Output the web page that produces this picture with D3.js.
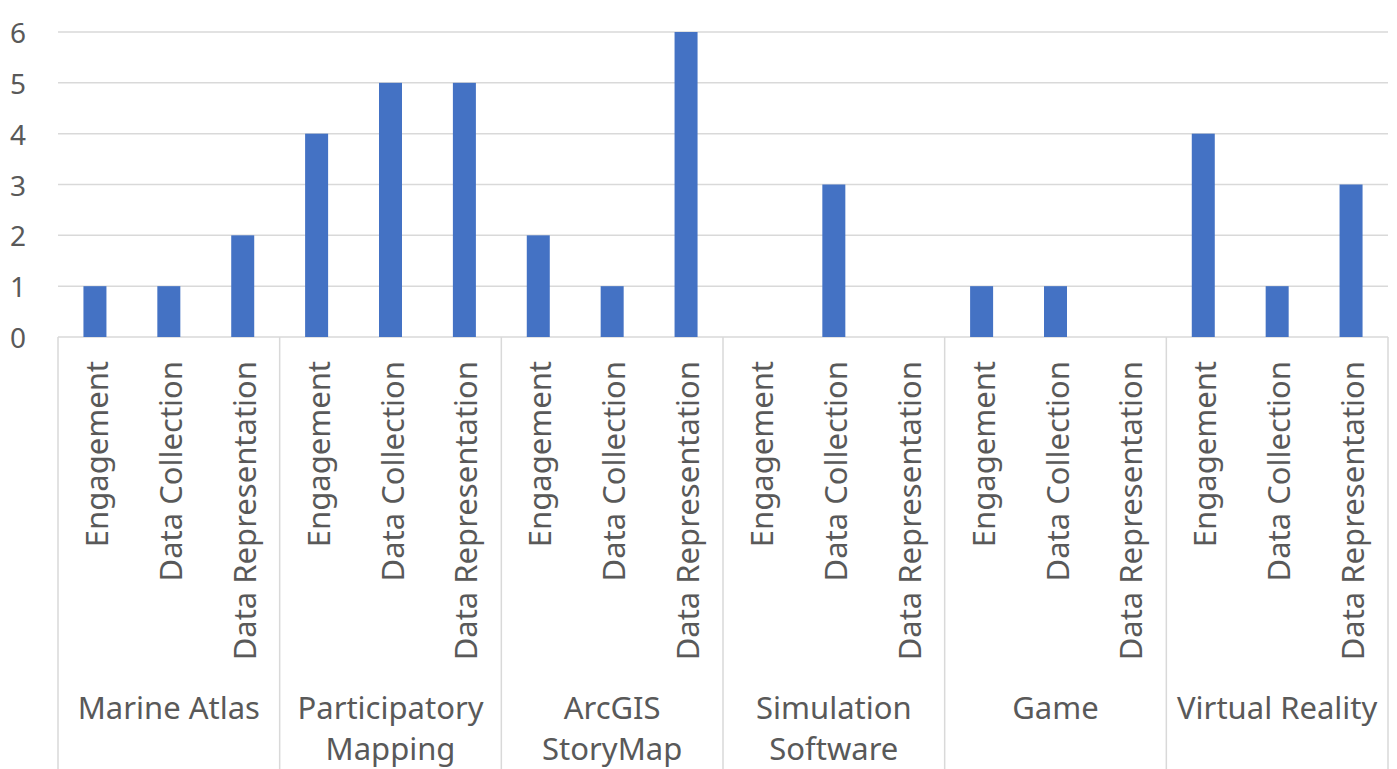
<!DOCTYPE html>
<html>
<head>
<meta charset="utf-8">
<script src="https://cdn.jsdelivr.net/npm/d3@7"></script>
<style>
  html, body { margin: 0; padding: 0; background: #fff; }
  svg { display: block; }
  text { font-family: "Noto Sans", "Open Sans", sans-serif; fill: #595959; }
</style>
</head>
<body>
<svg id="chart" width="1397" height="769"></svg>
<script>
// Tool groups (outer category) and the purpose each was used for (inner category)
const groups = ["Marine Atlas", "Participatory Mapping", "ArcGIS StoryMap", "Simulation Software", "Game", "Virtual Reality"];
const purposes = ["Engagement", "Data Collection", "Data Representation"];
// Count per group, in purpose order
const engagement         = [1, 4, 2, 0, 1, 4];
const dataCollection     = [1, 5, 1, 3, 1, 1];
const dataRepresentation = [2, 5, 6, 0, 0, 3];
const yTicks = [0, 1, 2, 3, 4, 5, 6];

const seriesByPurpose = [engagement, dataCollection, dataRepresentation];
const rows = [];
groups.forEach((g, gi) => {
  purposes.forEach((p, pi) => {
    rows.push({ group: g, purpose: p, key: g + "|" + p, value: seriesByPurpose[pi][gi] });
  });
});

const svg = d3.select("#chart");
const W = 1397, H = 769;
const plotLeft = 58, plotRight = 1388, plotTop = 32, plotBase = 337;

const x = d3.scaleBand().domain(rows.map(d => d.key)).range([plotLeft, plotRight]).paddingInner(0).paddingOuter(0);
const xg = d3.scaleBand().domain(groups).range([plotLeft, plotRight]);
const y = d3.scaleLinear().domain([0, 6]).range([plotBase, plotTop]);

const grid = "#d9d9d9";

// horizontal gridlines
svg.append("g").selectAll("line").data(yTicks.filter(t => t > 0)).join("line")
  .attr("x1", plotLeft).attr("x2", plotRight)
  .attr("y1", d => y(d)).attr("y2", d => y(d))
  .attr("stroke", grid).attr("stroke-width", 1.5);

// category axis line and group separators
svg.append("line").attr("x1", plotLeft).attr("x2", plotRight).attr("y1", plotBase).attr("y2", plotBase)
  .attr("stroke", grid).attr("stroke-width", 1.5);
const seps = groups.map(g => xg(g)).concat([plotRight]);
svg.append("g").selectAll("line").data(seps).join("line")
  .attr("x1", d => d).attr("x2", d => d)
  .attr("y1", plotBase).attr("y2", H)
  .attr("stroke", grid).attr("stroke-width", 1.5);

// y tick labels
svg.append("g").selectAll("text").data(yTicks).join("text")
  .attr("x", 26).attr("y", d => y(d))
  .attr("text-anchor", "end").attr("dominant-baseline", "central")
  .style("font-size", "28px")
  .text(d => d);

// bars
const bw = 23;
svg.append("g").selectAll("rect").data(rows.filter(d => d.value > 0)).join("rect")
  .attr("x", d => x(d.key) + x.bandwidth() / 2 - bw / 2)
  .attr("width", bw)
  .attr("y", d => y(d.value))
  .attr("height", d => y(0) - y(d.value))
  .attr("fill", "#4472c4");

// rotated purpose labels
svg.append("g").selectAll("text").data(rows).join("text")
  .attr("transform", d => `translate(${x(d.key) + x.bandwidth() / 2 + 13},361) rotate(-90)`)
  .attr("text-anchor", "end")
  .style("font-size", "31px")
  .text(d => d.purpose);

// group labels, wrapped to two lines where needed
const wrap = {
  "Participatory Mapping": ["Participatory", "Mapping"],
  "ArcGIS StoryMap": ["ArcGIS", "StoryMap"],
  "Simulation Software": ["Simulation", "Software"]
};
const gl = svg.append("g").selectAll("text").data(groups).join("text")
  .attr("x", d => xg(d) + xg.bandwidth() / 2)
  .attr("y", 719)
  .attr("text-anchor", "middle")
  .style("font-size", "31px");
gl.each(function (d) {
  const lines = wrap[d] || [d];
  d3.select(this).selectAll("tspan").data(lines).join("tspan")
    .attr("x", xg(d) + xg.bandwidth() / 2)
    .attr("dy", (l, i) => i === 0 ? 0 : 41)
    .text(l => l);
});
</script>
</body>
</html>
